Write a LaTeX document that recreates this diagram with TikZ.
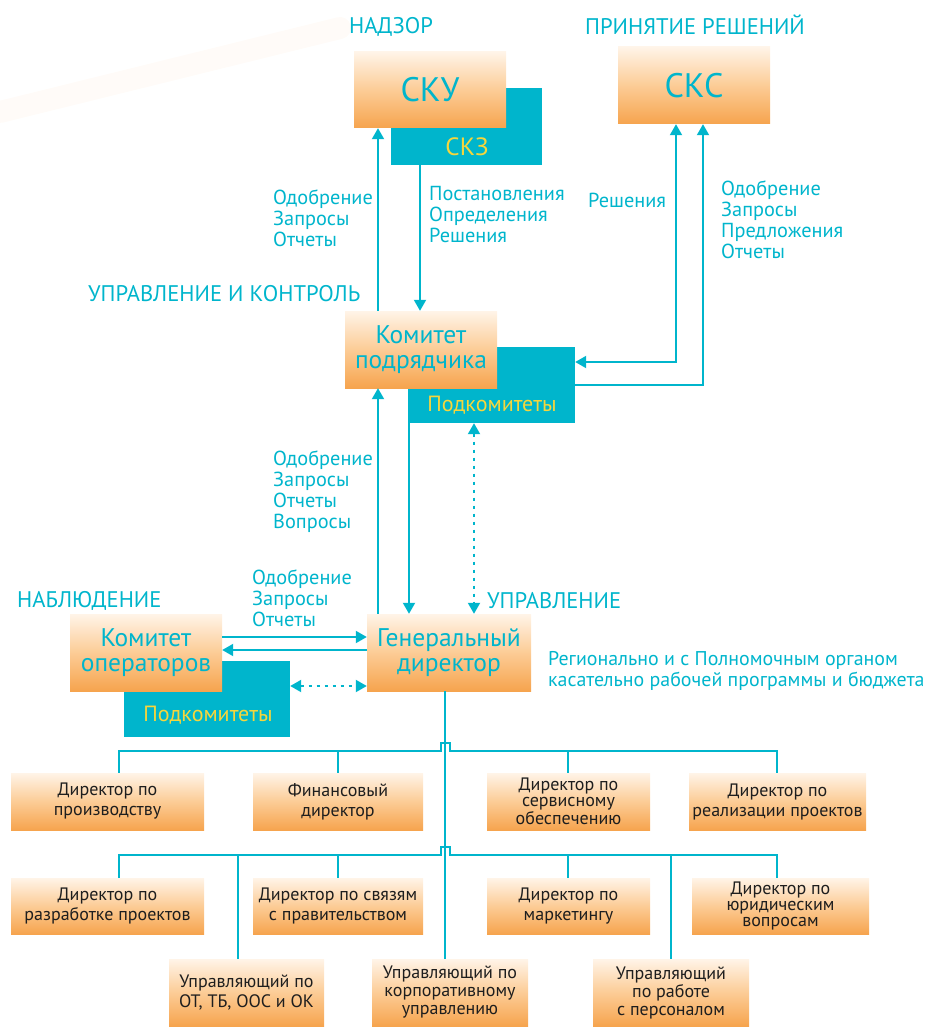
\documentclass[tikz,border=0pt]{standalone}
\usepackage{fontspec}
\setmainfont{PT Sans}
\usetikzlibrary{arrows.meta}
\definecolor{cy}{RGB}{0,181,204}
\definecolor{ye}{RGB}{246,214,60}
\definecolor{ot}{RGB}{255,244,232}
\definecolor{om}{RGB}{252,204,150}
\definecolor{ob}{RGB}{246,164,78}
\definecolor{tx}{RGB}{30,30,30}

\tikzset{
  obox/.style={rectangle, top color=ot, bottom color=ob, middle color=om, inner sep=0pt, align=center},
  cbox/.style={rectangle, fill=cy, inner sep=0pt},
  ttl/.style={text=cy, font=\fontsize{34}{36}\selectfont},
  midt/.style={text=cy, font=\fontsize{25.5}{25}\selectfont},
  low/.style={text=tx, font=\fontsize{18}{20}\selectfont},
  low3/.style={text=tx, font=\fontsize{18}{16}\selectfont},
  sub/.style={text=ye, font=\fontsize{22}{24}\selectfont},
  head/.style={text=cy, inner sep=0pt, font=\fontsize{22.6}{24}\selectfont},
  lst/.style={text=cy, align=left, anchor=west, inner sep=0pt, font=\fontsize{20.3}{21}\selectfont},
  ln/.style={draw=cy, line width=2pt},
  arr/.style={ln, -{Triangle[width=12pt,length=11pt]}},
  darr/.style={ln, {Triangle[width=12pt,length=11pt]}-{Triangle[width=12pt,length=11pt]}},
  dotarr/.style={darr, dash pattern=on 3.5pt off 4.5pt},
}

\begin{document}
\begin{tikzpicture}[x=1pt,y=-1pt]
\useasboundingbox (0,0) rectangle (928,1027);
\draw[line width=22pt, color=om, opacity=0.07, line cap=round] (0,112) -- (340,28);

% cyan boxes behind
\node[cbox, minimum width=151pt, minimum height=77pt] (skz) at (466.5,126.5) {};
\node[cbox, minimum width=167pt, minimum height=76pt] (pk1) at (491.5,385) {};
\node[cbox, minimum width=166pt, minimum height=76pt] (pk2) at (207,699) {};
\node[sub, font=\fontsize{25}{26}\selectfont] (skzt) at (467,147) {СКЗ};
\node[sub] (pk1t) at (492,405) {Подкомитеты};
\node[sub] (pk2t) at (208,715) {Подкомитеты};

% main boxes
\node[obox, ttl, minimum width=152pt, minimum height=76pt] (sku) at (430,90) {СКУ};
\node[obox, ttl, minimum width=152pt, minimum height=77pt] (skc) at (694,85.5) {СКС};
\node[obox, midt, minimum width=152pt, minimum height=77pt] (kp) at (421,349.5) {Комитет\\подрядчика};
\node[obox, midt, minimum width=152pt, minimum height=77pt] (ko) at (146,652.5) {Комитет\\операторов};
\node[obox, midt, minimum width=164pt, minimum height=77pt] (gd) at (449,652.5) {Генеральный\\директор};

% headings and lists
\node[head] (nadzor) at (391,27) {НАДЗОР};
\node[head] (prin) at (695,25) {ПРИНЯТИЕ РЕШЕНИЙ};
\node[head, anchor=west] (upk) at (88,294) {УПРАВЛЕНИЕ И КОНТРОЛЬ};
\node[head, anchor=west] (nabl) at (17,601) {НАБЛЮДЕНИЕ};
\node[head, anchor=west] (upr) at (487,601) {УПРАВЛЕНИЕ};

\node[lst] (l1) at (273,218) {Одобрение\\Запросы\\Отчеты};
\node[lst] (l2) at (429,215) {Постановления\\Определения\\Решения};
\node[lst] (l3) at (588,200) {Решения};
\node[lst] (l4) at (721,219.5) {Одобрение\\Запросы\\Предложения\\Отчеты};
\node[lst] (l5) at (273,492) {Одобрение\\Запросы\\Отчеты\\Вопросы};
\node[lst] (l6) at (252,598) {Одобрение\\Запросы\\Отчеты};
\node[lst, font=\fontsize{19.9}{21}\selectfont] (l7) at (548,670.5) {Регионально и с Полномочным органом\\касательно рабочей программы и бюджета};

% directors
\node[obox, low, minimum width=193pt, minimum height=57pt] (dp) at (107.5,801.5) {Директор по\\производству};
\node[obox, low, minimum width=170pt, minimum height=57pt] (fd) at (338,801.5) {Финансовый\\директор};
\node[obox, low3, minimum width=163pt, minimum height=57pt] (ds) at (568.5,801.5) {Директор по\\сервисному\\обеспечению};
\node[obox, low, minimum width=177pt, minimum height=57pt] (dr) at (777.5,801.5) {Директор по\\реализации проектов};

\node[obox, low, minimum width=193pt, minimum height=56pt] (drp) at (107.5,906) {Директор по\\разработке проектов};
\node[obox, low, minimum width=170pt, minimum height=56pt] (dsp) at (338,906) {Директор по связям\\с правительством};
\node[obox, low, minimum width=163pt, minimum height=56pt] (dm) at (568.5,906) {Директор по\\маркетингу};
\node[obox, low3, minimum width=177pt, minimum height=56pt] (dyu) at (780.5,906) {Директор по\\юридическим\\вопросам};

\node[obox, low, minimum width=155pt, minimum height=67pt] (uot) at (246.5,992.5) {Управляющий по\\ОТ, ТБ, ООС и ОК};
\node[obox, low3, font=\fontsize{18}{18}\selectfont, minimum width=156pt, minimum height=67pt] (ukor) at (450,992.5) {Управляющий по\\корпоративному\\управлению};
\node[obox, low3, font=\fontsize{18}{18}\selectfont, minimum width=156pt, minimum height=67pt] (uper) at (671,992.5) {Управляющий\\по работе\\с персоналом};

% columns and rows for the connectors
\coordinate (cA) at (378,0);
\coordinate (cB) at (420,0);
\coordinate (cC) at (409,0);
\coordinate (cD) at (474,0);
\coordinate (cE) at (676,0);
\coordinate (cF) at (703,0);
\coordinate (rR) at (0,362);
\coordinate (rA) at (0,637);
\coordinate (rB) at (0,650);
\coordinate (rC) at (0,686);
\coordinate (b1) at (445,751);
\coordinate (b2) at (445,855);
\coordinate (d1) at (119,0);
\coordinate (d2) at (338,0);
\coordinate (d3) at (568,0);
\coordinate (d4) at (777,0);
\coordinate (e1) at (238,0);
\coordinate (e3) at (671,0);

\draw[arr] (kp.north -| cA) -- (sku.south -| cA);
\draw[arr] (skz.south -| cB) -- (kp.north -| cB);
\draw[darr] (pk1.east |- rR) -| (skc.south -| cE);
\draw[arr] (pk1.east) -| (skc.south -| cF);
\draw[arr] (gd.north -| cA) -- (kp.south -| cA);
\draw[arr] (pk1.south -| cC) -- (gd.north -| cC);
\draw[dotarr] (pk1.south -| cD) -- (gd.north -| cD);
\draw[arr] (ko.east |- rA) -- (gd.west |- rA);
\draw[arr] (gd.west |- rB) -- (ko.east |- rB);
\draw[dotarr] (pk2.east |- rC) -- (gd.west |- rC);

% tree
\draw[ln] (gd.south -| b1) -- (ukor.north -| b1);
\draw[ln] (dp.north -| d1) |- ([xshift=-4.5pt]b1) -- ++(0,-8) -- ++(9,0) -- ++(0,8) -| (dr.north -| d4);
\draw[ln] (fd.north -| d2) -- (b1 -| d2);
\draw[ln] (ds.north -| d3) -- (b1 -| d3);
\draw[ln] (drp.north -| d1) |- ([xshift=-4.5pt]b2) -- ++(0,-8) -- ++(9,0) -- ++(0,8) -| (dyu.north -| d4);
\draw[ln] (dsp.north -| d2) -- (b2 -| d2);
\draw[ln] (dm.north -| d3) -- (b2 -| d3);
\draw[ln] (uot.north -| e1) -- (b2 -| e1);
\draw[ln] (uper.north -| e3) -- (b2 -| e3);
\end{tikzpicture}
\end{document}
